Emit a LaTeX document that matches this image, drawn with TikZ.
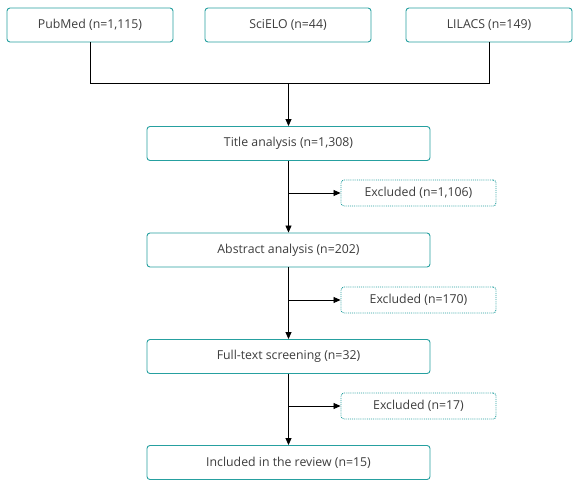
\documentclass[tikz,border=0pt]{standalone}
\usepackage{fontspec}
\setmainfont{Open Sans}
\usetikzlibrary{arrows.meta}
\definecolor{teal1}{RGB}{38,160,160}
\definecolor{txt}{RGB}{60,60,60}
\begin{document}
\begin{tikzpicture}[x=1pt,y=-1pt,
  box/.style={draw=teal1,line width=0.9pt,rounded corners=3pt,minimum height=34pt,text=txt,font=\fontsize{12.3}{14}\selectfont,inner sep=0pt},
  exbox/.style={draw=teal1,line width=0.9pt,densely dotted,rounded corners=3pt,minimum width=155pt,minimum height=26pt,text=txt,font=\fontsize{12.3}{14}\selectfont,inner sep=0pt},
  conn/.style={line width=0.8pt,black},
  arr/.style={conn,-{Triangle[length=7pt,width=6pt]}}]
\path[use as bounding box] (0,0) rectangle (578,485);
\node[box,minimum width=166pt] (pub) at (90,25) {PubMed (n=1,115)};
\node[box,minimum width=166pt] (sci) at (288,25) {SciELO (n=44)};
\node[box,minimum width=166pt] (lil) at (489,25) {LILACS (n=149)};
\node[box,minimum width=283pt] (title) at (288.5,143.5) {Title analysis (n=1,308)};
\node[exbox] (ex1) at (418.5,193) {Excluded (n=1,106)};
\node[box,minimum width=283pt] (abs) at (288.5,250) {Abstract analysis (n=202)};
\node[exbox] (ex2) at (418.5,300) {Excluded (n=170)};
\node[box,minimum width=283pt] (full) at (288.5,356.5) {Full-text screening (n=32)};
\node[exbox] (ex3) at (418.5,406) {Excluded (n=17)};
\node[box,minimum width=283pt] (inc) at (288.5,462.5) {Included in the review (n=15)};
\coordinate (j) at (288.5,83);
\draw[conn] (pub.south) |- (j);
\draw[conn] (lil.south) |- (j);
\draw[arr] (j) -- (title.north);
\draw[arr] (title.south) -- (abs.north);
\draw[arr] (abs.south) -- (full.north);
\draw[arr] (full.south) -- (inc.north);
\draw[arr] (title.south |- ex1.west) -- (ex1.west);
\draw[arr] (abs.south |- ex2.west) -- (ex2.west);
\draw[arr] (full.south |- ex3.west) -- (ex3.west);
\end{tikzpicture}
\end{document}
